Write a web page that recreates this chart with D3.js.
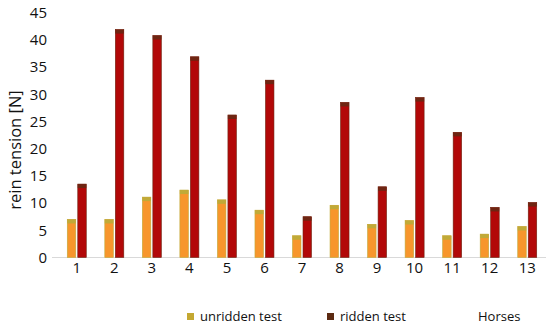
<!DOCTYPE html>
<html>
<head>
<meta charset="utf-8">
<script src="https://cdn.jsdelivr.net/npm/d3@7"></script>
<style>
  body { margin: 0; background: #fff; }
  text { font-family: "Open Sans", "Noto Sans", sans-serif; fill: #111; }
</style>
</head>
<body>
<div id="chart"></div>
<script>
const horses = ['1', '2', '3', '4', '5', '6', '7', '8', '9', '10', '11', '12', '13'];
const unridden = [7.0, 7.0, 11.1, 12.4, 10.6, 8.7, 4.0, 9.6, 6.1, 6.8, 4.0, 4.3, 5.7];
const ridden = [13.5, 41.9, 40.8, 36.9, 26.2, 32.6, 7.5, 28.5, 13.0, 29.4, 23.0, 9.2, 10.1];
const yTicks = [0, 5, 10, 15, 20, 25, 30, 35, 40, 45];
const seriesNames = ['unridden test', 'ridden test'];

const width = 550;
const height = 328;

const svg = d3.select('#chart')
              .append('svg')
              .attr('width', width)
              .attr('height', height);

const xScale = d3.scaleBand()
                 .domain(horses)
                 .range([58, 546]);

const yScale = d3.scaleLinear()
                 .domain([0, 45])
                 .range([257.5, 12.7]);

// baseline
svg.append('line')
   .attr('x1', 52).attr('x2', 546)
   .attr('y1', yScale(0)).attr('y2', yScale(0))
   .attr('stroke', '#d9d9d9')
   .attr('stroke-width', 1);

const yAxis = d3.axisLeft(yScale)
                .tickValues(yTicks)
                .tickSize(0)
                .tickPadding(0);

svg.append('g')
   .attr('transform', 'translate(47, 0)')
   .call(yAxis)
   .call(g => g.select('.domain').remove())
   .selectAll('text')
   .style('font-size', '15px')
   .style('font-family', '"Open Sans", sans-serif');

const xAxis = d3.axisBottom(xScale)
                .tickSize(0)
                .tickPadding(5);

svg.append('g')
   .attr('transform', 'translate(0, ' + yScale(0) + ')')
   .call(xAxis)
   .call(g => g.select('.domain').remove())
   .selectAll('text')
   .style('font-size', '15px')
   .style('font-family', '"Open Sans", sans-serif');

const barW = 8.5;
const gap = 2;

function drawBars(values, offset, main, cap) {
  const g = svg.append('g');
  g.selectAll('rect.main')
   .data(values)
   .enter().append('rect')
   .attr('x', (d, i) => xScale.bandwidth() / 2 + xScale(horses[i]) + offset)
   .attr('y', d => yScale(d))
   .attr('width', barW)
   .attr('height', d => yScale(0) - yScale(d))
   .attr('fill', main)
   .attr('stroke', cap)
   .attr('stroke-width', 0.6);
  g.selectAll('rect.cap')
   .data(values)
   .enter().append('rect')
   .attr('x', (d, i) => xScale.bandwidth() / 2 + xScale(horses[i]) + offset)
   .attr('y', d => yScale(d))
   .attr('width', barW)
   .attr('height', 4)
   .attr('fill', cap);
}

drawBars(unridden, -barW - gap / 2, '#f7962c', '#c0aa38');
drawBars(ridden, gap / 2, '#b20808', '#6e2512');

svg.append('text')
   .attr('transform', 'translate(21, 150) rotate(-90)')
   .attr('text-anchor', 'middle')
   .style('font-size', '16.5px')
   .text('rein tension [N]');

// legend
const legend = svg.append('g');
const legendX = [187, 327];
const legendColors = ['#c4a832', '#5c2a12'];
seriesNames.forEach((name, i) => {
  legend.append('rect')
        .attr('x', legendX[i]).attr('y', 313)
        .attr('width', 7).attr('height', 7)
        .attr('fill', legendColors[i]);
  legend.append('text')
        .attr('x', legendX[i] + 13).attr('y', 321)
        .style('font-size', '13px')
        .text(name);
});
legend.append('text')
      .attr('x', 478).attr('y', 321)
      .style('font-size', '13px')
      .text('Horses');
</script>
</body>
</html>
